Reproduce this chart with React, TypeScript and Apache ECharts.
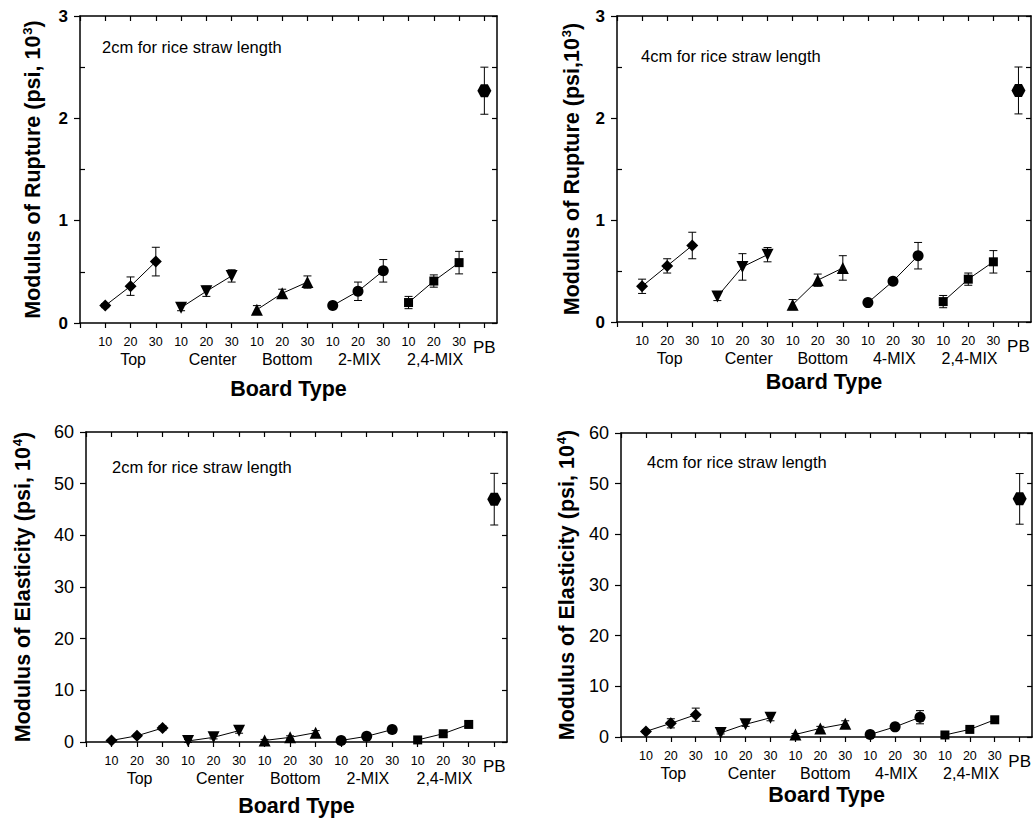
import { useEffect, useRef } from "react";
import * as echarts from "echarts";

const FONT = "Liberation Sans, Arial, sans-serif";

// ---- categories / tick labels ----
const boardTypes2cm = ["Top", "Center", "Bottom", "2-MIX", "2,4-MIX"];
const boardTypes4cm = ["Top", "Center", "Bottom", "4-MIX", "2,4-MIX"];
const lengthLabels = ["10", "20", "30"];
const pbLabel = "PB";
const morTicks = [0, 1, 2, 3];
const moeTicks = [0, 10, 20, 30, 40, 50, 60];

// ---- Modulus of Rupture (psi, 10^3) ----
const mor2cmMean = [
  [0.17, 0.36, 0.6],
  [0.15, 0.31, 0.46],
  [0.13, 0.29, 0.4],
  [0.17, 0.31, 0.51],
  [0.2, 0.41, 0.59],
];
const mor2cmErr = [
  [0.02, 0.09, 0.14],
  [0.03, 0.05, 0.06],
  [0.04, 0.04, 0.06],
  [0.02, 0.09, 0.11],
  [0.06, 0.06, 0.11],
];
const mor4cmMean = [
  [0.35, 0.55, 0.75],
  [0.25, 0.54, 0.66],
  [0.17, 0.41, 0.53],
  [0.19, 0.4, 0.65],
  [0.2, 0.42, 0.59],
];
const mor4cmErr = [
  [0.07, 0.07, 0.13],
  [0.04, 0.13, 0.07],
  [0.05, 0.06, 0.12],
  [0.02, 0.02, 0.13],
  [0.06, 0.06, 0.11],
];
const morPB = 2.27;
const morPBErr = 0.23;

// ---- Modulus of Elasticity (psi, 10^4) ----
const moe2cmMean = [
  [0.3, 1.2, 2.7],
  [0.2, 0.9, 2.2],
  [0.3, 0.9, 1.8],
  [0.3, 1.1, 2.4],
  [0.4, 1.6, 3.4],
];
const moe2cmErr = [
  [0.2, 0.3, 0.4],
  [0.3, 0.3, 0.5],
  [0.2, 0.3, 0.4],
  [0.2, 0.3, 0.3],
  [0.2, 0.3, 0.6],
];
const moe4cmMean = [
  [1.1, 2.7, 4.4],
  [0.8, 2.5, 3.8],
  [0.5, 1.7, 2.6],
  [0.5, 2.0, 3.9],
  [0.4, 1.5, 3.4],
];
const moe4cmErr = [
  [0.3, 0.9, 1.3],
  [0.2, 0.4, 0.6],
  [0.2, 0.4, 0.6],
  [0.2, 0.3, 1.3],
  [0.2, 0.3, 0.5],
];
const moePB = 47;
const moePBErr = 5;

// ---- styling / layout (not data) ----
const groupSymbols = ["diamond", "triangle", "triangle", "circle", "rect"];
const groupRotate = [0, 180, 0, 0, 0];
const groupSizes = [12, 12, 12, 11, 9];
const hexPath = "path://M5,0 L15,0 L20,8.66 L15,17.32 L5,17.32 L0,8.66 Z";
const groupLabelAt = [2.1, 5.25, 8.2, 11.05, 14.05];

type Panel = {
  grid: { left: number; top: number; width: number; height: number };
  means: number[][];
  errs: number[][];
  pb: number;
  pbErr: number;
  names: string[];
  ticks: number[];
  rightStep: number;
  innerMinor: number[] | null;
  labelBold: boolean;
  labelSize: number;
  yTitle: string;
  yGap: number;
  xGap: number;
  note: string;
  noteX: number;
  noteY: number;
};

const panels: Panel[] = [
  {
    grid: { left: 80, top: 16, width: 417, height: 307 },
    means: mor2cmMean, errs: mor2cmErr, pb: morPB, pbErr: morPBErr,
    names: boardTypes2cm, ticks: morTicks, rightStep: 0.5, innerMinor: [0.5, 1.5, 2.5],
    labelBold: true, labelSize: 17,
    yTitle: "Modulus of Rupture (psi, 10{sup|3})", yGap: 36, xGap: 55,
    note: "2cm for rice straw length", noteX: 102, noteY: 48,
  },
  {
    grid: { left: 617, top: 16, width: 414, height: 306 },
    means: mor4cmMean, errs: mor4cmErr, pb: morPB, pbErr: morPBErr,
    names: boardTypes4cm, ticks: morTicks, rightStep: 0.5, innerMinor: [0.5, 1.5, 2.5],
    labelBold: true, labelSize: 17,
    yTitle: "Modulus of Rupture (psi,10{sup|3})", yGap: 34, xGap: 49,
    note: "4cm for rice straw length", noteX: 641, noteY: 57,
  },
  {
    grid: { left: 86, top: 432, width: 421, height: 310 },
    means: moe2cmMean, errs: moe2cmErr, pb: moePB, pbErr: moePBErr,
    names: boardTypes2cm, ticks: moeTicks, rightStep: 10, innerMinor: null,
    labelBold: false, labelSize: 18,
    yTitle: "Modulus of Elasticity (psi, 10{sup|4})", yGap: 52, xGap: 53,
    note: "2cm for rice straw length", noteX: 112, noteY: 468,
  },
  {
    grid: { left: 621, top: 433, width: 415, height: 304 },
    means: moe4cmMean, errs: moe4cmErr, pb: moePB, pbErr: moePBErr,
    names: boardTypes4cm, ticks: moeTicks, rightStep: 10, innerMinor: null,
    labelBold: false, labelSize: 18,
    yTitle: "Modulus of Elasticity (psi, 10{sup|4})", yGap: 43, xGap: 47,
    note: "4cm for rice straw length", noteX: 647, noteY: 463,
  },
];

const BLACK = "#000";
const positions = Array.from({ length: 17 }, (_, i) => i);

function errorBarRender(params: any, api: any) {
  const x = api.value(0);
  const lo = api.value(1);
  const hi = api.value(2);
  const a = api.coord([x, hi]);
  const b = api.coord([x, lo]);
  const w = 4;
  const st = { stroke: BLACK, lineWidth: 1 };
  return {
    type: "group",
    children: [
      { type: "line", shape: { x1: a[0], y1: a[1], x2: b[0], y2: b[1] }, style: st },
      { type: "line", shape: { x1: a[0] - w, y1: a[1], x2: a[0] + w, y2: a[1] }, style: st },
      { type: "line", shape: { x1: b[0] - w, y1: b[1], x2: b[0] + w, y2: b[1] }, style: st },
    ],
  };
}

function buildOption() {
  const grid: any[] = [];
  const xAxis: any[] = [];
  const yAxis: any[] = [];
  const series: any[] = [];
  const graphic: any[] = [];

  panels.forEach((p, i) => {
    grid.push({ ...p.grid, containLabel: false });
    const yMin = p.ticks[0];
    const yMax = p.ticks[p.ticks.length - 1];
    const yInt = p.ticks[1] - p.ticks[0];

    // main bottom x axis
    xAxis.push({
      type: "value", gridIndex: i, position: "bottom", min: 0, max: 16.5,
      axisLine: { show: true, onZero: false, lineStyle: { color: BLACK, width: 1.5 } },
      axisTick: { show: true, inside: false, length: 5, customValues: positions, lineStyle: { color: BLACK, width: 1.2 } },
      axisLabel: {
        show: true, customValues: positions.slice(1), margin: 12, color: BLACK,
        fontFamily: FONT, fontSize: 12.5,
        formatter: (v: number) => {
          const n = Math.round(v);
          if (n === 16) return "{pb|" + pbLabel + "}";
          if (n < 1 || n > 15) return "";
          return lengthLabels[(n - 1) % 3];
        },
        rich: { pb: { fontFamily: FONT, fontSize: 17, color: BLACK, padding: [4, 0, 0, 0] } },
      },
      splitLine: { show: false },
      name: "Board Type", nameLocation: "middle", nameGap: p.xGap,
      nameTextStyle: { fontFamily: FONT, fontWeight: "bold", fontSize: 21.5, color: BLACK },
    });
    // top frame axis
    xAxis.push({
      type: "value", gridIndex: i, position: "top", min: 0, max: 16.5,
      axisLine: { show: true, onZero: false, lineStyle: { color: BLACK, width: 1.5 } },
      axisTick: { show: true, inside: true, length: 5, customValues: positions, lineStyle: { color: BLACK, width: 1.2 } },
      axisLabel: { show: false }, splitLine: { show: false },
    });
    // group-name axis
    xAxis.push({
      type: "value", gridIndex: i, position: "bottom", min: 0, max: 16.5,
      axisLine: { show: false }, axisTick: { show: false }, splitLine: { show: false },
      axisLabel: {
        show: true, customValues: groupLabelAt, margin: 28, color: BLACK,
        fontFamily: FONT, fontSize: 16,
        formatter: (v: number) => {
          let best = 0;
          groupLabelAt.forEach((g, k) => { if (Math.abs(g - v) < Math.abs(groupLabelAt[best] - v)) best = k; });
          return p.names[best];
        },
      },
    });

    // left y axis
    yAxis.push({
      type: "value", gridIndex: i, position: "left", min: yMin, max: yMax, interval: yInt,
      axisLine: { show: true, onZero: false, lineStyle: { color: BLACK, width: 1.5 } },
      axisTick: { show: true, inside: false, length: 6, lineStyle: { color: BLACK, width: 1.2 } },
      axisLabel: {
        show: true, margin: 12, color: BLACK, fontFamily: FONT, fontSize: p.labelSize,
        fontWeight: p.labelBold ? "bold" : "normal",
      },
      splitLine: { show: false },
      name: p.yTitle, nameLocation: "middle", nameGap: p.yGap,
      nameTextStyle: {
        fontFamily: FONT, fontWeight: "bold", fontSize: 21.5, color: BLACK,
        rich: { sup: { fontFamily: FONT, fontWeight: "bold", fontSize: 13, color: BLACK, verticalAlign: "top", padding: [0, 0, 10, 1] } },
      },
    });
    // left inner minor ticks
    yAxis.push({
      type: "value", gridIndex: i, position: "left", min: yMin, max: yMax, interval: yInt,
      show: !!p.innerMinor,
      axisLine: { show: false },
      axisTick: { show: !!p.innerMinor, inside: true, length: 5, customValues: p.innerMinor || [], lineStyle: { color: BLACK, width: 1.2 } },
      axisLabel: { show: false }, splitLine: { show: false },
    });
    // right frame axis
    yAxis.push({
      type: "value", gridIndex: i, position: "right", min: yMin, max: yMax, interval: p.rightStep,
      axisLine: { show: true, onZero: false, lineStyle: { color: BLACK, width: 1.5 } },
      axisTick: { show: true, inside: true, length: 5, lineStyle: { color: BLACK, width: 1.2 } },
      axisLabel: { show: false }, splitLine: { show: false },
    });

    const xi = 3 * i;
    const yi = 3 * i;
    const errData: number[][] = [];
    p.means.forEach((vals, g) => {
      const data = vals.map((v, k) => [g * 3 + k + 1, v]);
      vals.forEach((v, k) => errData.push([g * 3 + k + 1, v - p.errs[g][k], v + p.errs[g][k]]));
      series.push({
        type: "line", name: p.names[g], xAxisIndex: xi, yAxisIndex: yi, data,
        symbol: groupSymbols[g], symbolSize: groupSizes[g], symbolRotate: groupRotate[g],
        itemStyle: { color: BLACK, opacity: 1 }, lineStyle: { color: BLACK, width: 1 },
        silent: true, z: 3, clip: false,
      });
    });
    errData.push([16, p.pb - p.pbErr, p.pb + p.pbErr]);
    series.push({
      type: "scatter", name: pbLabel, xAxisIndex: xi, yAxisIndex: yi,
      data: [[16, p.pb]], symbol: hexPath, symbolSize: [14, 13],
      itemStyle: { color: BLACK, opacity: 1 }, silent: true, z: 3,
    });
    series.push({
      type: "custom", xAxisIndex: xi, yAxisIndex: yi, data: errData,
      encode: { x: 0, y: [1, 2] }, renderItem: errorBarRender, silent: true, z: 2, clip: false,
    });

    graphic.push({
      type: "text", left: p.noteX, top: p.noteY - 10,
      style: { text: p.note, fontFamily: FONT, fontSize: 16.5, fill: BLACK },
    });
  });

  return {
    animation: false,
    backgroundColor: "#fff",
    grid, xAxis, yAxis, series, graphic,
  };
}

export default function App() {
  const ref = useRef<HTMLDivElement>(null);
  useEffect(() => {
    const chart = echarts.init(ref.current!, null, { renderer: "svg" });
    chart.setOption(buildOption() as any);
    return () => chart.dispose();
  }, []);
  return (
    <div
      ref={ref}
      style={{ position: "fixed", left: 0, top: 0, width: 1034, height: 822, background: "#fff" }}
    />
  );
}
